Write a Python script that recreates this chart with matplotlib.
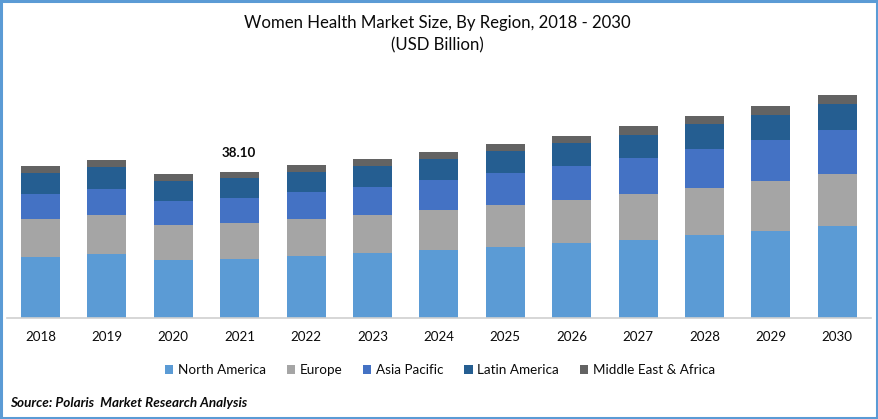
import matplotlib
matplotlib.use("Agg")
import matplotlib.pyplot as plt
from matplotlib.patches import Rectangle

W, H = 879, 419
plt.rcParams['font.family'] = ['Lato', 'DejaVu Sans']

years = [2018, 2019, 2020, 2021, 2022, 2023, 2024, 2025, 2026, 2027, 2028, 2029, 2030]
north_america = [15.9, 16.7, 15.1, 15.4, 16.2, 17.0, 17.7, 18.5, 19.6, 20.4, 21.7, 22.7, 24.0]
europe = [9.9, 10.2, 9.1, 9.4, 9.7, 9.9, 10.4, 11.0, 11.2, 12.0, 12.3, 13.0, 13.6]
asia_pacific = [6.5, 6.8, 6.3, 6.5, 7.0, 7.3, 7.8, 8.4, 8.9, 9.4, 10.2, 10.7, 11.5]
latin_america = [5.5, 5.7, 5.2, 5.2, 5.2, 5.5, 5.5, 5.7, 6.0, 6.0, 6.3, 6.5, 6.8]
mea = [1.8, 1.8, 1.8, 1.6, 1.8, 1.8, 1.8, 1.8, 1.8, 2.3, 2.1, 2.3, 2.3]

series = [
    ("North America", north_america, "#5B9BD5"),
    ("Europe", europe, "#A5A5A5"),
    ("Asia Pacific", asia_pacific, "#4472C4"),
    ("Latin America", latin_america, "#255E91"),
    ("Middle East & Africa", mea, "#636363"),
]

fig = plt.figure(figsize=(W / 100, H / 100), dpi=100, facecolor="white")
x0, x1, ybase, ytop = 7, 871, 318, 60
ax = fig.add_axes([x0 / W, 1 - ybase / H, (x1 - x0) / W, (ybase - ytop) / H])

positions = list(range(len(years)))
bottom = [0.0] * len(years)
for name, vals, col in series:
    ax.bar(positions, vals, width=0.59, bottom=bottom, color=col, label=name, linewidth=0)
    bottom = [b + v for b, v in zip(bottom, vals)]

ax.set_xlim((x0 - 40.5) / 66.4, (x1 - 40.5) / 66.4)
ax.set_ylim(0, (ybase - ytop) * 38.10 / 146)
ax.set_xticks(positions)
ax.set_xticklabels([str(y) for y in years], fontsize=9.6, color="#0A0A0A")
ax.tick_params(axis='x', length=0, pad=9.5)
ax.set_yticks([])
for s in ("top", "left", "right"):
    ax.spines[s].set_visible(False)
ax.spines["bottom"].set_color("#D0D0D0")
ax.spines["bottom"].set_linewidth(1.2)

ax.annotate("38.10", (3, bottom[3]), xytext=(-1, 13), textcoords="offset pixels",
            ha="center", va="bottom", fontsize=9.6, fontweight="bold", color="#0A0A0A")

fig.text(437 / W, 1 - 23 / H, "Women Health Market Size, By Region, 2018 - 2030",
         ha="center", va="center", fontsize=12.1, color="#0A0A0A")
fig.text(437 / W, 1 - 45 / H, "(USD Billion)", ha="center", va="center",
         fontsize=12.1, color="#0A0A0A")

leg = ax.legend(loc="center", bbox_to_anchor=(440 / W, 1 - 370 / H),
                bbox_transform=fig.transFigure, ncol=5, frameon=False,
                fontsize=9.7, handlelength=0.6, handleheight=0.6,
                handletextpad=0.35, columnspacing=1.55, labelcolor="#0A0A0A")

fig.text(10 / W, 1 - 403 / H, "Source: Polaris  Market Research Analysis",
         ha="left", va="center", fontsize=9.75, fontweight="bold", fontstyle="italic",
         color="#0A0A0A")

fig.add_artist(Rectangle((1.5 / W, 1.5 / H), (W - 3.5) / W, (H - 3) / H,
                         transform=fig.transFigure, fill=False,
                         edgecolor="#5B9BD5", linewidth=2.2))

fig.savefig("out.png", dpi=100, facecolor="white")
